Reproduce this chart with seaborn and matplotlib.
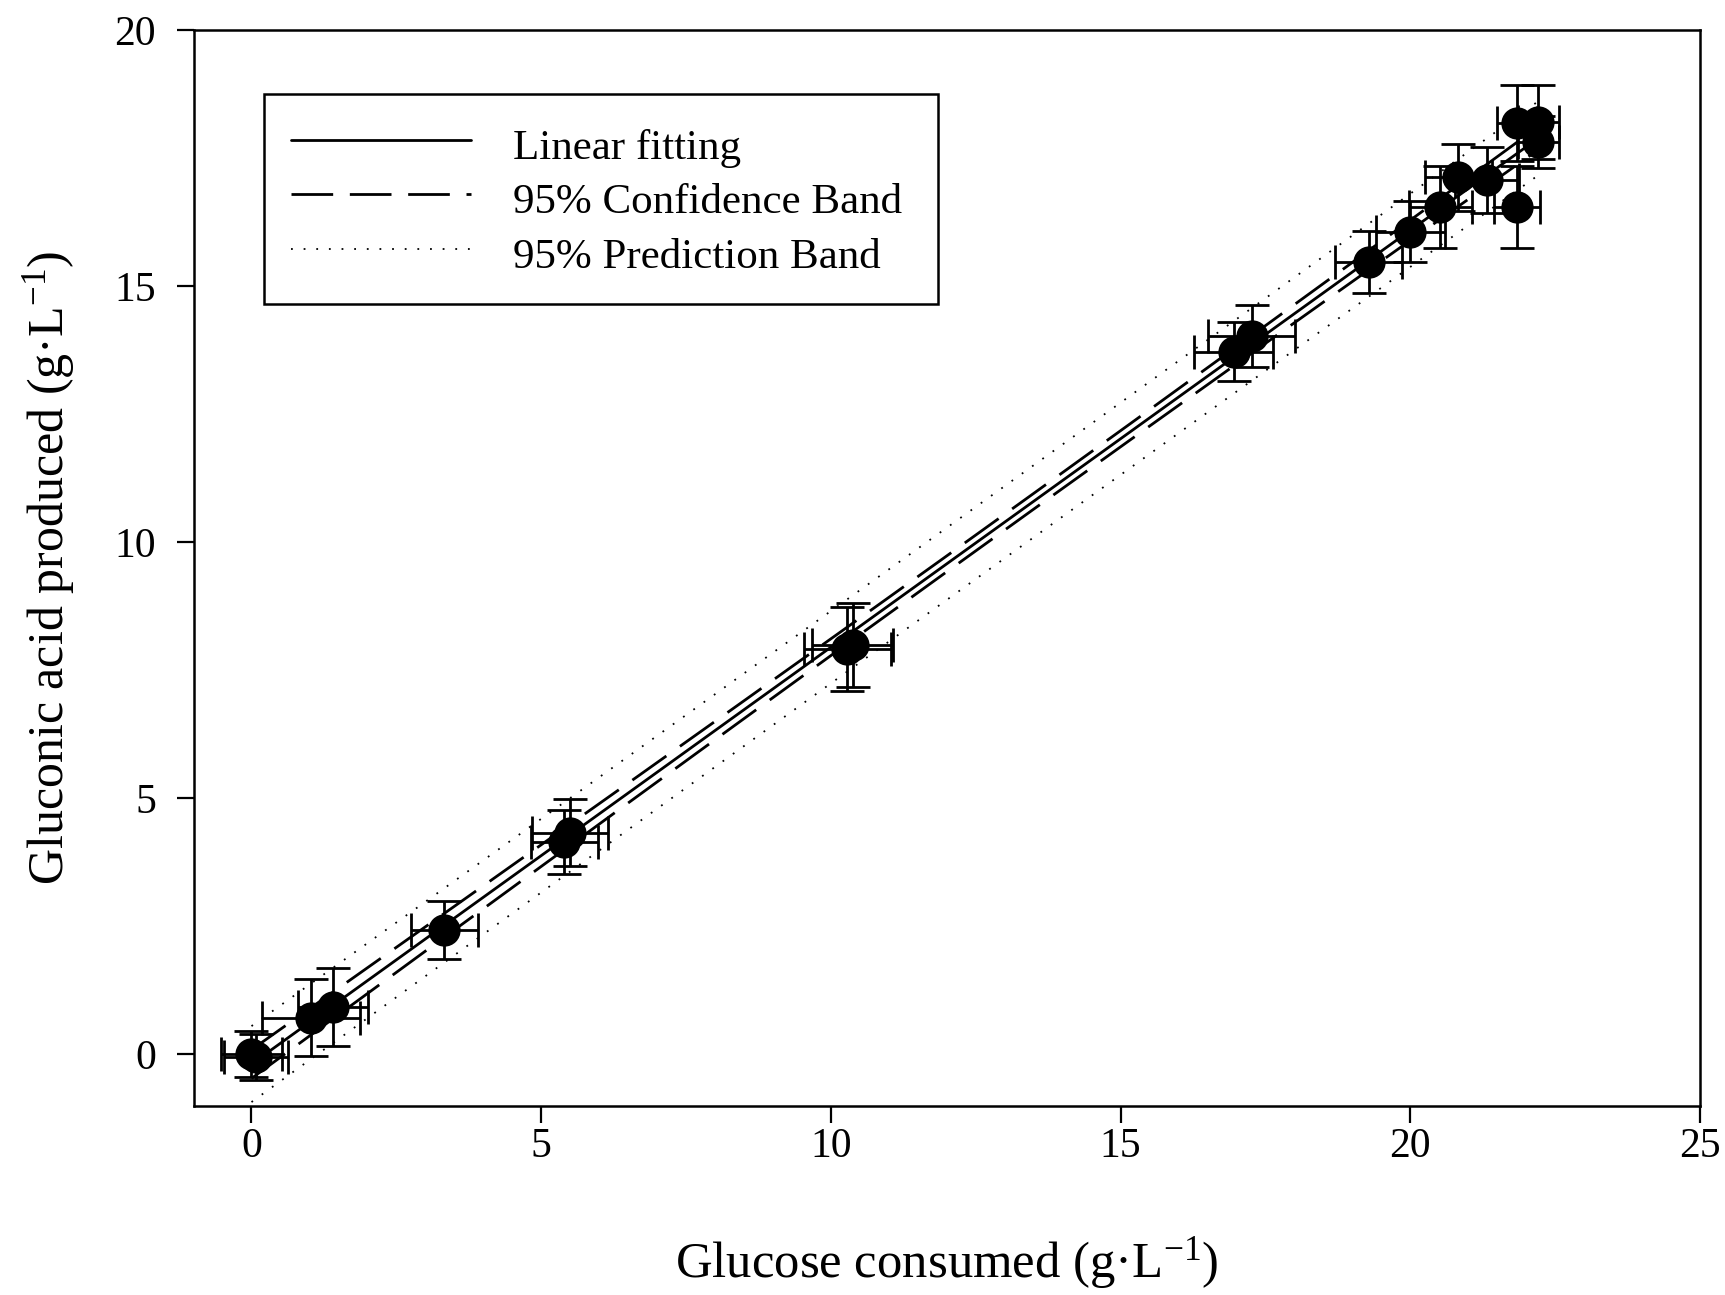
import numpy as np
import pandas as pd
import matplotlib
matplotlib.use("Agg")
import matplotlib.pyplot as plt
import seaborn as sns

# ---- data ----
glucose = [0.00, 0.08, 1.03, 1.41, 3.33, 5.40, 5.50, 10.28, 10.38, 16.95, 17.26,
           19.28, 20.00, 20.52, 20.83, 21.32, 21.84, 21.84, 22.21, 22.21]
gluconic = [0.00, -0.05, 0.72, 0.92, 2.43, 4.15, 4.33, 7.92, 8.00, 13.72, 14.02,
            15.47, 16.06, 16.55, 17.12, 17.07, 16.54, 18.18, 18.20, 17.81]
glucose_err = [0.52, 0.55, 0.85, 0.60, 0.58, 0.58, 0.65, 0.75, 0.70, 0.68, 0.75,
               0.58, 0.60, 0.55, 0.58, 0.55, 0.40, 0.35, 0.35, 0.35]
gluconic_err = [0.45, 0.45, 0.76, 0.76, 0.56, 0.62, 0.65, 0.82, 0.82, 0.58, 0.60,
                0.60, 0.60, 0.80, 0.65, 0.65, 0.80, 0.75, 0.72, 0.50]

x_ticks = [0, 5, 10, 15, 20, 25]
y_ticks = [0, 5, 10, 15, 20]
legend_labels = ["Linear fitting", "95% Confidence Band", "95% Prediction Band"]
T95 = 2.10  # two-sided 95% t quantile for ~18 degrees of freedom

# ---- style ----
sns.set_style("ticks")
plt.rcParams["font.family"] = ["Liberation Serif", "DejaVu Serif"]
plt.rcParams["mathtext.fontset"] = "custom"
plt.rcParams["mathtext.rm"] = "Liberation Serif"
plt.rcParams["mathtext.it"] = "Liberation Serif:italic"
for k in ["text.color", "axes.labelcolor", "xtick.color", "ytick.color", "axes.edgecolor"]:
    plt.rcParams[k] = "black"

fig = plt.figure(figsize=(17.25, 12.95), dpi=100)
ax = fig.add_axes([0.1122, 0.1462, 0.8733, 0.8308])

df = pd.DataFrame({"x": glucose, "y": gluconic, "xe": glucose_err, "ye": gluconic_err})

# ---- regression, confidence and prediction bands from the data ----
xa = df["x"].to_numpy()
ya = df["y"].to_numpy()
n = len(xa)
slope, intercept = np.polyfit(xa, ya, 1)
resid = ya - (slope * xa + intercept)
s = np.sqrt(np.sum(resid ** 2) / (n - 2))
xg = np.linspace(xa.min(), xa.max(), 200)
yg = slope * xg + intercept
sxx = np.sum((xa - xa.mean()) ** 2)
ci = T95 * s * np.sqrt(1 / n + (xg - xa.mean()) ** 2 / sxx)
pi = T95 * s * np.sqrt(1 + 1 / n + (xg - xa.mean()) ** 2 / sxx)
fit = pd.DataFrame({"x": xg, "fit": yg, "cl": yg - ci, "cu": yg + ci, "pl": yg - pi, "pu": yg + pi})

lw = 2.0
dash = (15, 6)
dot = (1, 6)
sns.lineplot(data=fit, x="x", y="fit", ax=ax, color="black", lw=lw, label=legend_labels[0], zorder=2)
sns.lineplot(data=fit, x="x", y="cu", ax=ax, color="black", lw=lw, zorder=2, label=legend_labels[1])
ax.lines[-1].set_dashes(dash)
sns.lineplot(data=fit, x="x", y="cl", ax=ax, color="black", lw=lw, zorder=2)
ax.lines[-1].set_dashes(dash)
sns.lineplot(data=fit, x="x", y="pu", ax=ax, color="black", lw=1.3, zorder=2, label=legend_labels[2])
ax.lines[-1].set_dashes(dot)
sns.lineplot(data=fit, x="x", y="pl", ax=ax, color="black", lw=1.3, zorder=2)
ax.lines[-1].set_dashes(dot)

ax.errorbar(df["x"], df["y"], xerr=df["xe"], yerr=df["ye"], fmt="none", ecolor="black",
            elinewidth=2.0, capsize=12, capthick=2.0, zorder=3)
sns.scatterplot(data=df, x="x", y="y", ax=ax, color="black", s=540, edgecolor="black",
                linewidth=0, zorder=4, legend=False)

# ---- axes ----
ax.set_xlim(-1, 25)
ax.set_ylim(-1, 20)
ax.set_xticks(x_ticks)
ax.set_yticks(y_ticks)
ax.tick_params(axis="both", direction="out", length=12, width=1.6, labelsize=30, color="black",
               labelcolor="black")
ax.tick_params(axis="x", pad=4)
ax.tick_params(axis="y", pad=15)
for sp in ax.spines.values():
    sp.set_visible(True)
    sp.set_linewidth(1.8)
    sp.set_color("black")

ax.set_xlabel("Glucose consumed (g·L$^{\\mathrm{-1}}$)", fontsize=36.5)
ax.set_ylabel("Gluconic acid produced (g·L$^{\\mathrm{-1}}$)", fontsize=36)
ax.xaxis.set_label_coords(0.5, -0.12)
ax.yaxis.set_label_coords(-0.0774, 0.5)

leg = ax.legend(loc="upper left", bbox_to_anchor=(0.0467, 0.7404, 0.4475, 0.2003), mode="expand",
                fontsize=31, frameon=True, fancybox=False, shadow=False, handlelength=4.17,
                handletextpad=0.97, borderpad=0.64, handleheight=1.26, labelspacing=0.19,
                borderaxespad=0)
leg.get_frame().set_edgecolor("black")
leg.get_frame().set_linewidth(1.8)
leg.get_frame().set_alpha(1)

fig.savefig("out.png", dpi=100)
